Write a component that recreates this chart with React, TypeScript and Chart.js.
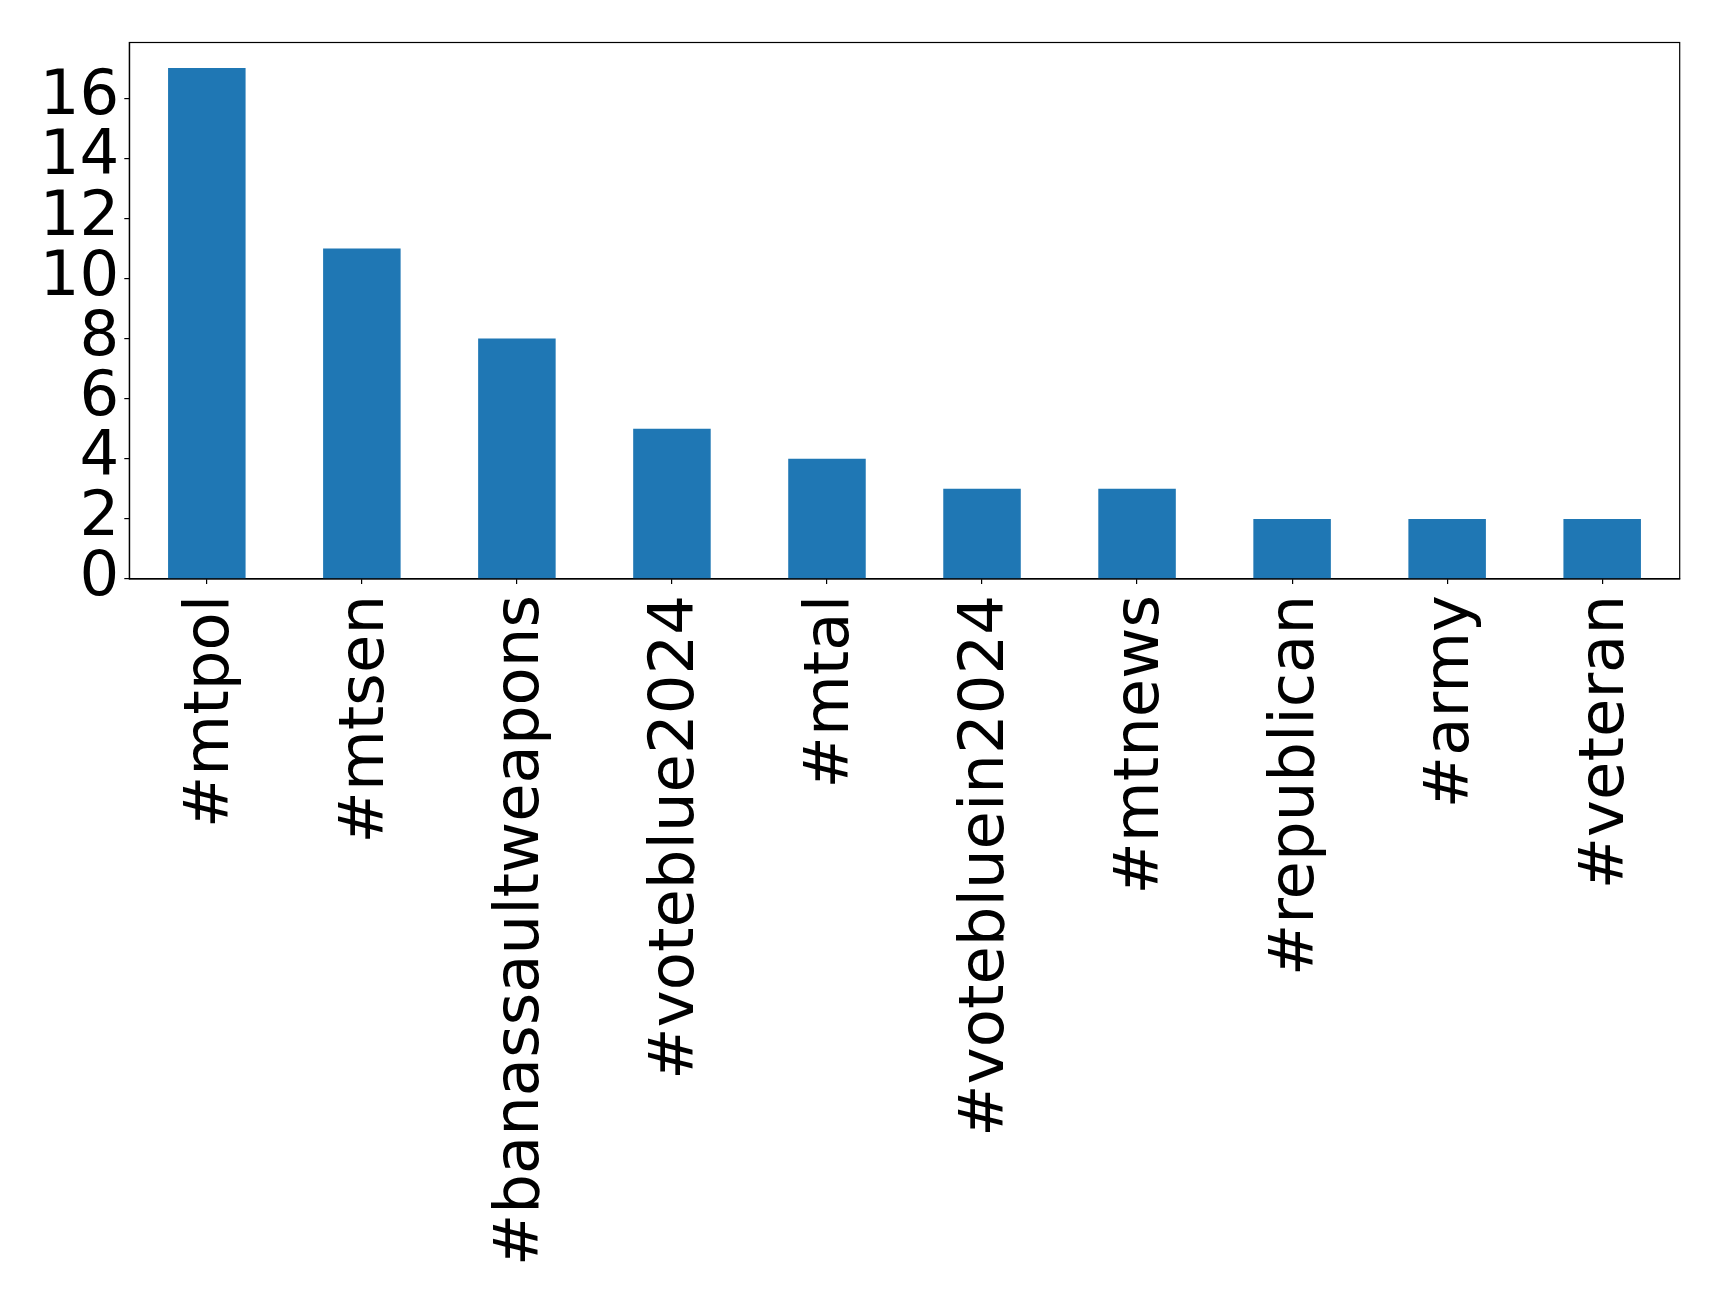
import React, { useEffect, useRef } from "react";
import { Chart, registerables } from "chart.js";

Chart.register(...registerables);

const labels = [
  "#mtpol",
  "#mtsen",
  "#banassaultweapons",
  "#voteblue2024",
  "#mtal",
  "#votebluein2024",
  "#mtnews",
  "#republican",
  "#army",
  "#veteran",
];
const counts = [17, 11, 8, 5, 4, 3, 3, 2, 2, 2];
const yTicks = [0, 2, 4, 6, 8, 10, 12, 14, 16];

const W = 1719;
const H = 1299;

export default function App() {
  const ref = useRef<HTMLCanvasElement | null>(null);
  useEffect(() => {
    document.body.style.margin = "0";
    const canvas = ref.current!;
    const framePlugin = {
      id: "frame",
      afterDraw(chart: any) {
        const { ctx, chartArea } = chart;
        ctx.save();
        ctx.strokeStyle = "#000";
        ctx.lineWidth = 1.2;
        ctx.strokeRect(
          chartArea.left,
          chartArea.top,
          chartArea.right - chartArea.left,
          chartArea.bottom - chartArea.top
        );
        ctx.restore();
      },
    };
    const chart = new Chart(canvas, {
      type: "bar",
      data: {
        labels,
        datasets: [
          {
            data: counts,
            backgroundColor: "#1f77b4",
            borderWidth: 0,
            categoryPercentage: 1,
            barPercentage: 0.5,
          },
        ],
      },
      options: {
        responsive: false,
        animation: false,
        devicePixelRatio: 1,
        layout: { padding: { top: 40.5, right: 39.3, left: 0, bottom: 0 } },
        plugins: { legend: { display: false }, tooltip: { enabled: false } },
        scales: {
          x: {
            offset: true,
            grid: {
              display: true,
              offset: false,
              drawOnChartArea: false,
              drawTicks: true,
              tickLength: 5,
              color: "#000",
              lineWidth: 1.2,
            },
            border: { display: true, color: "#000", width: 1.2 },
            ticks: {
              color: "#000",
              font: { family: "DejaVu Sans", size: 62.5 },
              minRotation: 90,
              maxRotation: 90,
              autoSkip: false,
              padding: 11,
              labelOffset: 5,
            },
            afterFit(scale: any) {
              scale.height = H - 579;
            },
          },
          y: {
            min: 0,
            max: 17.85,
            grid: {
              display: true,
              drawOnChartArea: false,
              drawTicks: true,
              tickLength: 5,
              color: "#000",
              lineWidth: 1.2,
            },
            border: { display: true, color: "#000", width: 1.2 },
            afterBuildTicks(scale: any) {
              scale.ticks = yTicks.map((v) => ({ value: v }));
            },
            ticks: {
              color: "#000",
              font: { family: "DejaVu Sans", size: 62.5 },
              padding: 5,
              autoSkip: false,
              includeBounds: false,
            },
            afterFit(scale: any) {
              scale.width = 129.3;
            },
          },
        },
      },
      plugins: [framePlugin],
    });
    return () => chart.destroy();
  }, []);
  return (
    <div style={{ width: W, height: H, background: "#fff" }}>
      <canvas ref={ref} width={W} height={H} style={{ width: W, height: H, display: "block" }} />
    </div>
  );
}
